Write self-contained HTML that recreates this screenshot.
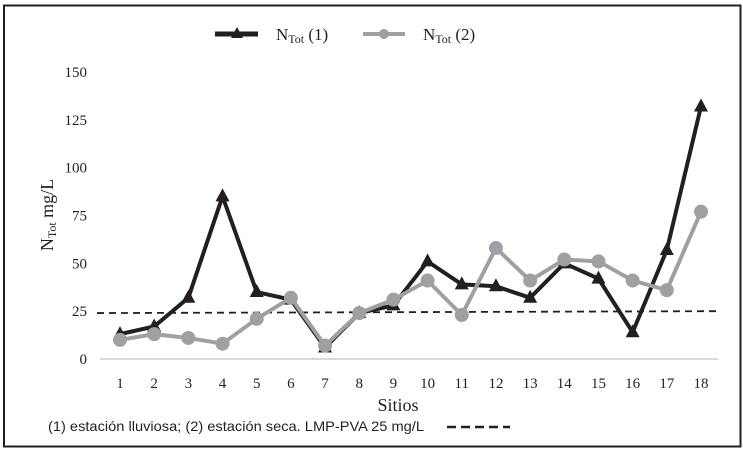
<!DOCTYPE html>
<html><head><meta charset="utf-8"><style>
body{margin:0;background:#fff;width:743px;height:449px;overflow:hidden}
svg text{font-family:"Liberation Serif",serif;fill:#231f20}
</style></head><body>
<svg width="743" height="449">
<rect x="4" y="5.5" width="736.5" height="441" fill="none" stroke="#231f20" stroke-width="2"/>
<g id="g"></g>
</svg>
<script>
const sites=["1","2","3","4","5","6","7","8","9","10","11","12","13","14","15","16","17","18"];
const s1=[13,17,32,85,35,31,6,24,28,51,39,38,32,50,42,14,57,132];
const s2=[10,13,11,8,21,32,7,24,31,41,23,58,41,52,51,41,36,77];
const yTicks=[0,25,50,75,100,125,150];
const limit=[24,25];
const NS="http://www.w3.org/2000/svg";
const g=document.getElementById('g');
const X=i=>120+i*(701-120)/17;
const Y=v=>359-v*(287/150);
function el(t,a,p){const e=document.createElementNS(NS,t);for(const k in a)e.setAttribute(k,a[k]);(p||g).appendChild(e);return e;}
let e;
e=el('line',{x1:100,x2:718,y1:359,y2:359,stroke:'#d9d8dc','stroke-width':2});

yTicks.forEach(v=>{e=el('text',{x:87,y:Y(v)+5,'text-anchor':'end','font-size':15});e.textContent=v;
});
sites.forEach((s,i)=>{e=el('text',{x:X(i),y:388,'text-anchor':'middle','font-size':15});e.textContent=s;
});
e=el('line',{x1:97,x2:718,y1:Y(limit[0]),y2:Y(limit[1]),stroke:'#231f20','stroke-width':1.8,'stroke-dasharray':'7,5'});

e=el('polyline',{points:s1.map((v,i)=>X(i)+','+Y(v)).join(' '),fill:'none',stroke:'#231f20','stroke-width':4,'stroke-linejoin':'miter'});

s1.forEach((v,i)=>{const x=X(i),y=Y(v);e=el('polygon',{points:`${x},${y-8} ${x-7},${y+5} ${x+7},${y+5}`,fill:'#231f20'});
});
e=el('polyline',{points:s2.map((v,i)=>X(i)+','+Y(v)).join(' '),fill:'none',stroke:'#a09fa3','stroke-width':4});

s2.forEach((v,i)=>{e=el('circle',{cx:X(i),cy:Y(v),r:7,fill:'#a09fa3'});
});
// legend
e=el('line',{x1:215,x2:258,y1:34,y2:34,stroke:'#231f20','stroke-width':5});

e=el('polygon',{points:'237,27 231,38 243,38',fill:'#231f20'});

e=el('text',{x:276,y:40,'font-size':17});e.innerHTML='N<tspan font-size="12" dy="3">Tot</tspan><tspan dy="-3"> (1)</tspan>';

e=el('line',{x1:363,x2:405,y1:34,y2:34,stroke:'#a09fa3','stroke-width':4});

e=el('circle',{cx:384,cy:34,r:5,fill:'#a09fa3'});

e=el('text',{x:423,y:40,'font-size':17});e.innerHTML='N<tspan font-size="12" dy="3">Tot</tspan><tspan dy="-3"> (2)</tspan>';

// axis titles
e=el('text',{x:0,y:0,'font-size':18,transform:'translate(53,215) rotate(-90)','text-anchor':'middle'});
e.innerHTML='N<tspan font-size="12" dy="3">Tot</tspan><tspan dy="-3"> mg/L</tspan>';

e=el('text',{x:398,y:411,'font-size':18,'text-anchor':'middle'});e.textContent='Sitios';

e=el('text',{x:48,y:431,'font-size':14,textLength:376,lengthAdjust:'spacingAndGlyphs',style:'font-family:"Liberation Sans",sans-serif'});e.textContent='(1) estación lluviosa; (2) estación seca. LMP-PVA 25 mg/L';

e=el('line',{x1:447,x2:510,y1:427,y2:427,stroke:'#231f20','stroke-width':2.5,'stroke-dasharray':'9,5'});

</script>
</body></html>
